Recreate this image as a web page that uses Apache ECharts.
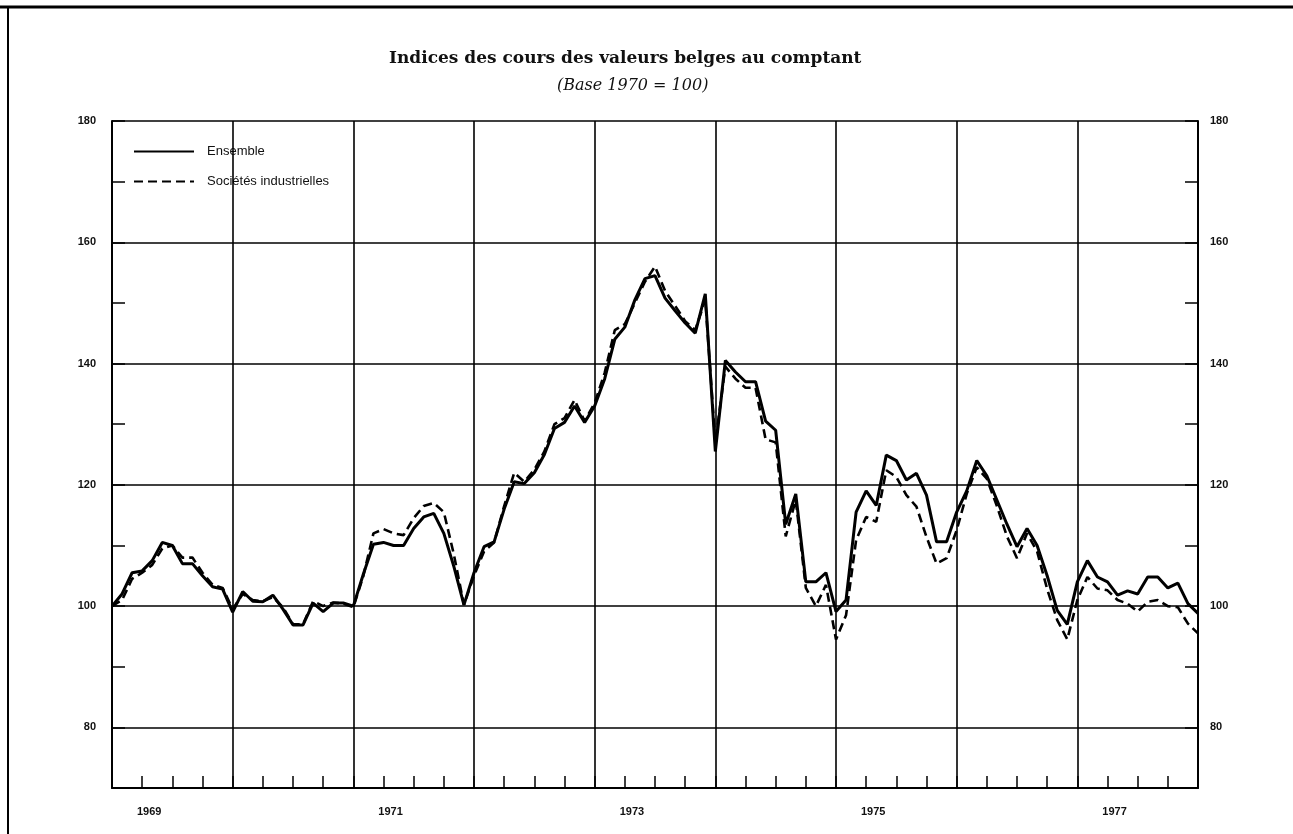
<!DOCTYPE html>
<html>
<head>
<meta charset="utf-8">
<script src="https://cdn.jsdelivr.net/npm/echarts@6/dist/echarts.min.js"></script>
<style>
html,body{margin:0;padding:0;background:#fff;}
#chart{width:1293px;height:834px;}
</style>
</head>
<body>
<div id="chart"></div>
<script>
// Monthly points, index 0 = start of 1969 ... 108 = end of 1977
const yearLabels = ['1969', '1971', '1973', '1975', '1977'];
const seriesNames = ['Ensemble', 'Sociétés industrielles'];

const ensemble = [
  // 1969
  100, 102, 105.5, 105.8, 107.5, 110.5, 110, 107, 107, 105, 103.2, 102.8, 99,
  // 1970
  102.4, 100.8, 100.7, 101.8, 99.5, 96.9, 96.9, 100.5, 99.1, 100.5, 100.5, 100,
  // 1971
  105.3, 110.2, 110.5, 110, 110, 112.8, 114.7, 115.3, 112, 106.5, 100.2, 105.5,
  // 1972
  109.8, 110.6, 116, 120.5, 120.2, 122, 125, 129.3, 130.3, 133, 130.3, 133,
  // 1973
  137.5, 144, 146, 150.5, 154, 154.5, 150.8, 148.7, 146.7, 145, 151.5, 125.5,
  // 1974
  140.5, 138.6, 137, 137, 130.5, 129, 113.5, 118.5, 104, 104, 105.5, 99.1,
  // 1975
  101, 115.5, 119, 116.6, 124.9, 124, 120.8, 121.9, 118.3, 110.6, 110.6, 115.5,
  // 1976
  119, 124, 121.5, 117.5, 113.5, 109.8, 112.8, 110, 105, 99.3, 97, 104,
  // 1977
  107.5, 104.8, 104, 101.8, 102.5, 102, 104.8, 104.8, 103, 103.8, 100.4, 98.8
];

const societes = [
  // 1969
  100, 101, 104.5, 105.5, 106.8, 109.5, 110, 108, 108, 105.5, 103.5, 103, 99.5,
  // 1970
  102, 101, 100.8, 101.5, 99.8, 97, 97, 100.8, 100, 100.6, 100.4, 99.8,
  // 1971
  105, 112, 112.7, 112, 111.7, 114.5, 116.5, 117, 115.5, 108.5, 100.2, 105,
  // 1972
  109, 110.5, 116.5, 122, 120.5, 122.5, 125.5, 130, 131, 134, 130.5, 133.5,
  // 1973
  138.5, 145.5, 146.5, 150, 153.5, 156, 152, 149.5, 147, 145.5, 150.5, 127,
  // 1974
  139.5, 137.5, 136, 136, 127.5, 127, 111.5, 117.5, 103, 100, 103.5, 94.5,
  // 1975
  98.5, 110.9, 114.7, 113.9, 122.4, 121.3, 118.3, 116.4, 111.4, 107, 107.9, 112.5,
  // 1976
  118.5, 122.9, 121, 116.5, 111.5, 107.9, 112, 109, 102.8, 97.7, 94.5, 101,
  // 1977
  104.8, 102.9, 102.6, 101, 100.4, 99.1, 100.7, 101, 100, 99.8, 97.1, 95.5
];

const yGridValues = [80, 100, 120, 140, 160, 180];
const yearBoundaries = [12, 24, 36, 48, 60, 72, 84, 96];

const chart = echarts.init(document.getElementById('chart'), null, {renderer: 'canvas'});

const labelFont = {fontFamily: 'Liberation Sans', fontSize: 11, fontWeight: 'bold', color: '#111'};

function yAxisDef(pos) {
  return {
    type: 'value', position: pos, min: 70, max: 180, interval: 10,
    axisLine: {show: true, lineStyle: {color: '#000', width: 2}},
    axisTick: {show: true, inside: true, length: 13, lineStyle: {color: '#000', width: 1.5}},
    splitLine: {show: false},
    axisLabel: Object.assign({
      margin: pos === 'left' ? 16 : 12,
      formatter: v => (v >= 80 && v % 20 === 0) ? String(v) : ''
    }, labelFont)
  };
}

const option = {
  animation: false,
  backgroundColor: '#fff',
  title: [
    {text: 'Indices des cours des valeurs belges au comptant', left: 384, top: 45,
     textStyle: {fontFamily: 'DejaVu Serif', fontWeight: 'bold', fontSize: 17, color: '#111'}},
    {text: '(Base 1970 = 100)', left: 552, top: 73,
     textStyle: {fontFamily: 'DejaVu Serif', fontStyle: 'italic', fontWeight: 'normal', fontSize: 16, color: '#111'}}
  ],
  legend: {
    data: seriesNames, orient: 'vertical', left: 127, top: 141,
    itemWidth: 60, itemHeight: 14, itemGap: 17,
    backgroundColor: '#fff', padding: [4, 6],
    itemStyle: {color: 'rgba(0,0,0,0)', borderWidth: 0, opacity: 0},
    textStyle: {fontFamily: 'Liberation Sans', fontSize: 13, color: '#111', padding: [0, 0, 0, 8]}
  },
  grid: {left: 112, right: 95, top: 121, bottom: 46},
  xAxis: {
    type: 'value', min: 0, max: 108, interval: 3,
    axisLine: {show: true, lineStyle: {color: '#000', width: 2}},
    axisTick: {show: true, inside: true, length: 12, lineStyle: {color: '#000', width: 1.5}},
    splitLine: {show: false},
    axisLabel: Object.assign({
      margin: 18, align: 'left', padding: [0, 0, 0, 25],
      formatter: v => (v % 24 === 0 && v < 108) ? yearLabels[v / 24] : ''
    }, labelFont)
  },
  yAxis: [yAxisDef('left'), yAxisDef('right')],
  series: [
    {
      name: 'grid', type: 'line', data: [], silent: true,
      markLine: {
        silent: true, symbol: 'none', label: {show: false},
        lineStyle: {color: '#000', type: 'solid', width: 1.6},
        data: yGridValues.map(v => ({yAxis: v})).concat(yearBoundaries.map(v => ({xAxis: v})))
      }
    },
    {
      name: seriesNames[1], type: 'line', showSymbol: false, symbol: 'none',
      lineStyle: {color: '#000', width: 2.6, type: [9, 5]},
      itemStyle: {color: '#000'},
      data: societes.map((v, i) => [i, v]), z: 3
    },
    {
      name: seriesNames[0], type: 'line', showSymbol: false, symbol: 'none',
      lineStyle: {color: '#000', width: 3},
      itemStyle: {color: '#000'},
      data: ensemble.map((v, i) => [i, v]), z: 4
    }
  ],
  graphic: [
    {type: 'line', shape: {x1: 0, y1: 7, x2: 1293, y2: 7}, style: {stroke: '#000', lineWidth: 3}},
    {type: 'line', shape: {x1: 8, y1: 7, x2: 8, y2: 834}, style: {stroke: '#000', lineWidth: 2}}
  ]
};
chart.setOption(option);
</script>
</body>
</html>
